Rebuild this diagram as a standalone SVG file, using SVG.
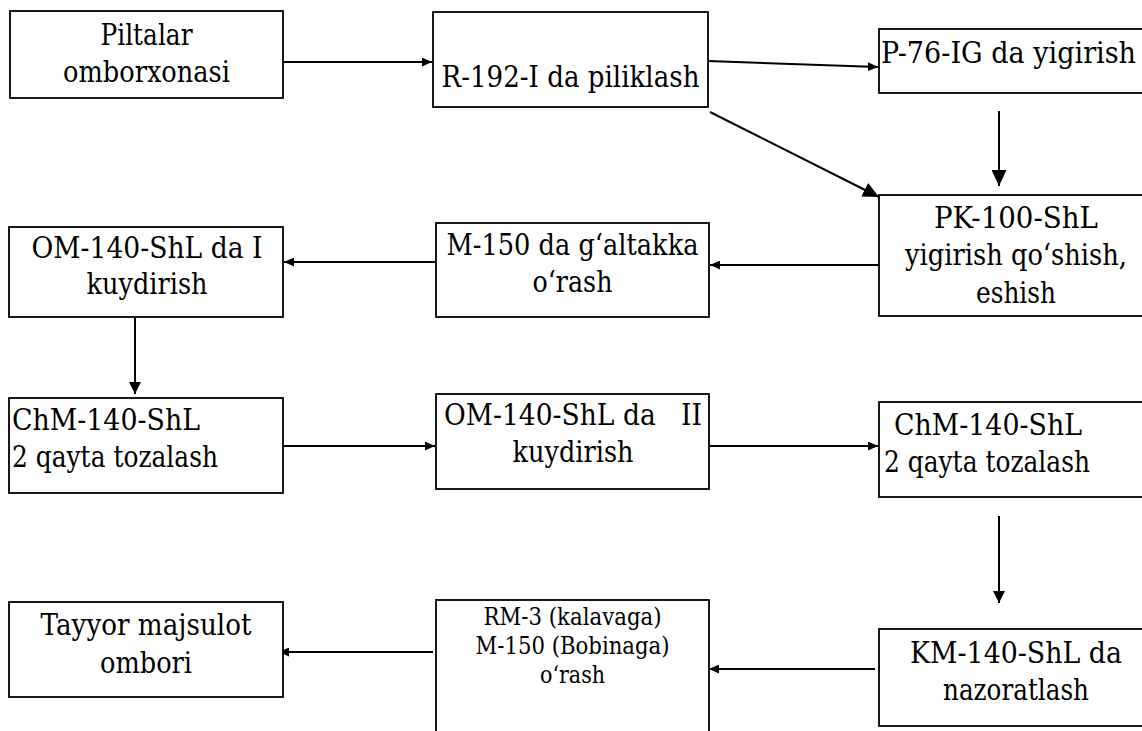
<svg xmlns="http://www.w3.org/2000/svg" width="1142" height="731" viewBox="0 0 1142 731">
<style>
.box{fill:#fff;stroke:#000;stroke-width:1.8}
.con{stroke:#000;stroke-width:2;fill:none}
text{font-family:'Liberation Serif','DejaVu Serif',serif;font-size:29px;fill:#000}
.c{text-anchor:middle}
.sm{font-size:23.5px}
</style>
<defs>
<marker id="s" markerUnits="userSpaceOnUse" markerWidth="10" markerHeight="9" refX="10" refY="4.5" orient="auto"><path d="M0,0 L10,4.5 L0,9 z" fill="#000"/></marker>
<marker id="m" markerUnits="userSpaceOnUse" markerWidth="12" markerHeight="12" refX="12" refY="6" orient="auto"><path d="M0,0 L12,6 L0,12 z" fill="#000"/></marker>
<marker id="l" markerUnits="userSpaceOnUse" markerWidth="16" markerHeight="15" refX="16" refY="7.5" orient="auto"><path d="M0,0 L16,7.5 L0,15 z" fill="#000"/></marker>
</defs>
<rect width="1142" height="731" fill="#fff"/>
<g id="connectors">
<line class="con" x1="283" y1="62" x2="432" y2="62" marker-end="url(#s)"/>
<line class="con" x1="708" y1="61" x2="878" y2="67" marker-end="url(#s)"/>
<line class="con" x1="710" y1="112" x2="879" y2="197" marker-end="url(#l)"/>
<line class="con" x1="999" y1="111" x2="999" y2="186" marker-end="url(#l)"/>
<line class="con" x1="879" y1="265" x2="710" y2="265" marker-end="url(#s)"/>
<line class="con" x1="436" y1="262" x2="284" y2="262" marker-end="url(#s)"/>
<line class="con" x1="135" y1="318" x2="135" y2="394" marker-end="url(#m)"/>
<line class="con" x1="278" y1="446" x2="435" y2="446" marker-end="url(#s)"/>
<line class="con" x1="709" y1="446" x2="878" y2="446" marker-end="url(#s)"/>
<line class="con" x1="999" y1="516" x2="999" y2="603" marker-end="url(#m)"/>
<line class="con" x1="875" y1="669" x2="709" y2="669" marker-end="url(#s)"/>
<line class="con" x1="433" y1="652" x2="279" y2="652" marker-end="url(#s)"/>
</g>
<g id="nodeA"><rect class="box" x="10" y="11" width="273" height="87"/>
<text class="c" style="font-family:'DejaVu Serif',serif" x="146.5" y="45" textLength="92" lengthAdjust="spacingAndGlyphs">Piltalar</text><text class="c" style="font-family:'DejaVu Serif',serif" x="146.5" y="82" textLength="167" lengthAdjust="spacingAndGlyphs">omborxonasi</text></g>
<g id="nodeB"><rect class="box" x="433" y="12" width="275" height="95"/>
<text class="c" style="font-family:'DejaVu Serif',serif" x="570.5" y="87" textLength="258" lengthAdjust="spacingAndGlyphs">R-192-I da piliklash</text></g>
<g id="nodeC"><rect class="box" x="879" y="29" width="280" height="64"/>
<text style="font-family:'DejaVu Serif',serif" x="881" y="63" textLength="255" lengthAdjust="spacingAndGlyphs">P-76-IG da yigirish</text></g>
<g id="nodeD"><rect class="box" x="879" y="195" width="280" height="121"/>
<text class="c" style="font-family:'DejaVu Serif',serif" x="1016" y="228" textLength="164" lengthAdjust="spacingAndGlyphs">PK-100-ShL</text><text class="c" style="font-family:'DejaVu Serif',serif" x="1016" y="265" textLength="222" lengthAdjust="spacingAndGlyphs">yigirish qo‘shish,</text><text class="c" style="font-family:'DejaVu Serif',serif" x="1016" y="303" textLength="80" lengthAdjust="spacingAndGlyphs">eshish</text></g>
<g id="nodeE"><rect class="box" x="436" y="223" width="273" height="94"/>
<text class="c" style="font-family:'DejaVu Serif',serif" x="572.5" y="255" textLength="252" lengthAdjust="spacingAndGlyphs">M-150 da g‘altakka</text><text class="c" style="font-family:'DejaVu Serif',serif" x="572.5" y="292" textLength="80" lengthAdjust="spacingAndGlyphs">o‘rash</text></g>
<g id="nodeF"><rect class="box" x="9" y="227" width="274" height="90"/>
<text class="c" style="font-family:'DejaVu Serif',serif" x="147" y="258" textLength="231" lengthAdjust="spacingAndGlyphs">OM-140-ShL da I</text><text class="c" style="font-family:'DejaVu Serif',serif" x="147" y="294" textLength="121" lengthAdjust="spacingAndGlyphs">kuydirish</text></g>
<g id="nodeG"><rect class="box" x="9" y="398" width="274" height="95"/>
<text style="font-family:'DejaVu Serif',serif" x="12" y="430" textLength="188" lengthAdjust="spacingAndGlyphs">ChM-140-ShL</text><text style="font-family:'DejaVu Serif',serif" x="12" y="467" textLength="206" lengthAdjust="spacingAndGlyphs">2 qayta tozalash</text></g>
<g id="nodeH"><rect class="box" x="436" y="394" width="273" height="95"/>
<text class="c" style="font-family:'DejaVu Serif',serif" x="573" y="425" xml:space="preserve" textLength="258" lengthAdjust="spacingAndGlyphs">OM-140-ShL da   II</text><text class="c" style="font-family:'DejaVu Serif',serif" x="573" y="462" textLength="121" lengthAdjust="spacingAndGlyphs">kuydirish</text></g>
<g id="nodeI"><rect class="box" x="879" y="402" width="280" height="95"/>
<text style="font-family:'DejaVu Serif',serif" x="894" y="435" textLength="188" lengthAdjust="spacingAndGlyphs">ChM-140-ShL</text><text style="font-family:'DejaVu Serif',serif" x="884" y="472" textLength="206" lengthAdjust="spacingAndGlyphs">2 qayta tozalash</text></g>
<g id="nodeJ"><rect class="box" x="879" y="629" width="280" height="97"/>
<text class="c" style="font-family:'DejaVu Serif',serif" x="1016" y="663" textLength="212" lengthAdjust="spacingAndGlyphs">KM-140-ShL da</text><text class="c" style="font-family:'DejaVu Serif',serif" x="1016" y="700" textLength="146" lengthAdjust="spacingAndGlyphs">nazoratlash</text></g>
<g id="nodeK"><rect class="box" x="436" y="600" width="273" height="140"/>
<text class="c sm" style="font-family:'DejaVu Serif',serif" x="572.5" y="625" textLength="178" lengthAdjust="spacingAndGlyphs">RM-3 (kalavaga)</text><text class="c sm" style="font-family:'DejaVu Serif',serif" x="572.5" y="654" textLength="194" lengthAdjust="spacingAndGlyphs">M-150 (Bobinaga)</text><text class="c sm" style="font-family:'DejaVu Serif',serif" x="572.5" y="683" textLength="65" lengthAdjust="spacingAndGlyphs">o‘rash</text></g>
<g id="nodeL"><rect class="box" x="9" y="602" width="274" height="95"/>
<text class="c" style="font-family:'DejaVu Serif',serif" x="146" y="635" textLength="211" lengthAdjust="spacingAndGlyphs">Tayyor majsulot</text><text class="c" style="font-family:'DejaVu Serif',serif" x="146" y="673" textLength="92" lengthAdjust="spacingAndGlyphs">ombori</text></g>
</svg>
